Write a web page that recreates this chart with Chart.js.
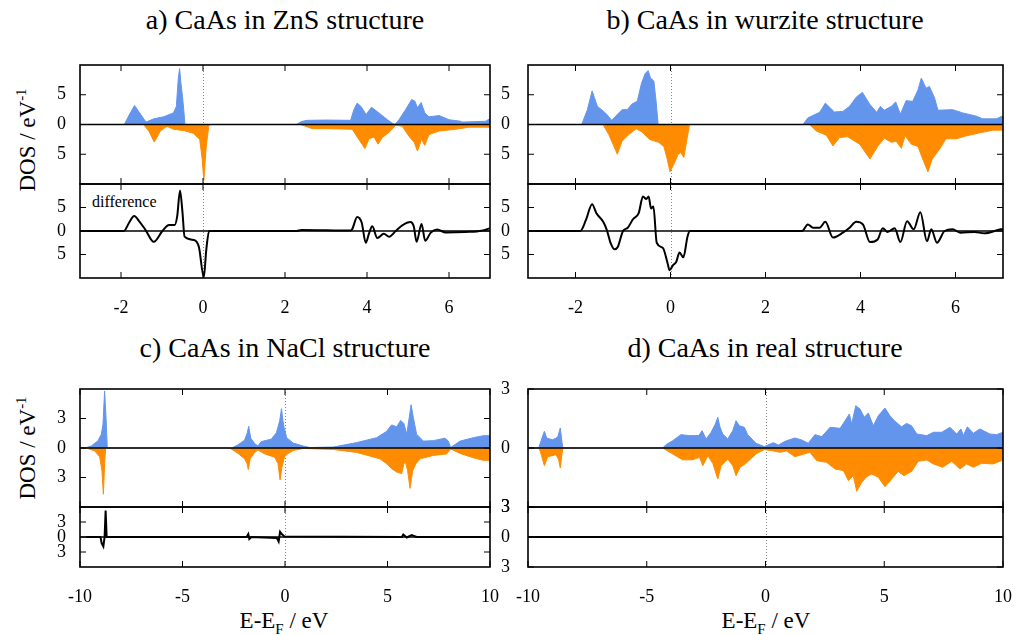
<!DOCTYPE html>
<html>
<head>
<meta charset="utf-8">
<script src="https://cdn.jsdelivr.net/npm/chart.js@4.4.0/dist/chart.umd.min.js"></script>
<style>
    body { margin: 0; width: 1017px; height: 635px; position: relative; overflow: hidden; background: #fff; font-family: "Liberation Serif", serif; color: #000; }
    canvas { position: absolute; }
    .title { position: absolute; font-size: 28px; line-height: 30px; white-space: nowrap; transform: translateX(-50%); }
    .ylab { position: absolute; font-size: 23px; line-height: 24px; white-space: nowrap; transform: translate(-50%, -50%) rotate(-90deg); }
    .xlab { position: absolute; font-size: 23px; line-height: 24px; white-space: nowrap; transform: translate(-50%, -50%); }
    .note { position: absolute; font-size: 16px; line-height: 16px; white-space: nowrap; }
    sup, sub { font-size: 0.65em; line-height: 0; }
</style>
</head>
<body>

<div class="title" style="left:285px; top:5px;">a) CaAs in ZnS structure</div>
<div class="title" style="left:765px; top:5px;">b) CaAs in wurzite structure</div>
<div class="title" style="left:285px; top:333px;">c) CaAs in NaCl structure</div>
<div class="title" style="left:765px; top:333px;">d) CaAs in real structure</div>
<div class="ylab" style="left:28px; top:140px;">DOS / eV<sup>-1</sup></div>
<div class="ylab" style="left:28px; top:448px;">DOS / eV<sup>-1</sup></div>
<div class="xlab" style="left:284px; top:621px;">E-E<sub>F</sub> / eV</div>
<div class="xlab" style="left:766px; top:621px;">E-E<sub>F</sub> / eV</div>
<div class="note" style="left:92px; top:194px;">difference</div>

<script>
// --- Data: a) ZnS structure ---
const aUpE = [-3, -1.92, -1.8, -1.67, -1.55, -1.39, -1.2, -0.96, -0.72, -0.65, -0.6, -0.57, -0.54, -0.5, -0.47, -0.44, 2.28, 2.4, 2.54, 3.0, 3.6, 3.68, 3.76, 3.85, 3.98, 4.11, 4.29, 4.5, 4.62, 4.68, 4.78, 4.94, 5.09, 5.17, 5.23, 5.32, 5.41, 5.51, 5.76, 6.0, 6.28, 6.32, 6.9, 6.95, 7];
const aUp = [0, 0, 1.6, 3.2, 2.0, 0.4, 0.95, 1.3, 1.95, 3.05, 8.0, 9.4, 7.0, 4.7, 2.5, 0, 0, 0.5, 0.7, 0.75, 0.7, 2.5, 3.6, 3.05, 1.7, 2.9, 1.95, 0.8, 0.2, 0, 0.8, 2.5, 4.2, 3.9, 2.8, 3.7, 1.95, 1.3, 1.5, 0.8, 0.55, 0.4, 0.55, 0.8, 0.9];
const aDnE = [-3, -1.45, -1.32, -1.19, -1.04, -0.88, -0.72, -0.45, -0.23, -0.08, -0.02, 0.02, 0.08, 0.14, 0.17, 2.38, 2.67, 3.0, 3.64, 3.8, 3.95, 4.05, 4.17, 4.27, 4.37, 4.54, 4.7, 4.86, 5.02, 5.15, 5.23, 5.33, 5.41, 5.51, 5.76, 6.16, 6.49, 7];
const aDn = [0, 0, -1.1, -2.95, -1.1, -0.3, -0.8, -1.05, -1.5, -2.5, -5.8, -9.4, -3.6, -0.3, 0, 0, -0.7, -0.7, -0.8, -2.5, -4.05, -2.4, -2.1, -3.3, -2.2, -1.3, -0.1, -0.3, -1.95, -3.0, -4.45, -2.5, -3.5, -1.7, -1.1, -0.8, -0.45, -0.45];
const aDiffE = [-3, -1.93, -1.8, -1.68, -1.55, -1.4, -1.2, -0.99, -0.83, -0.69, -0.63, -0.56, -0.5, -0.45, -0.22, -0.1, 0.02, 0.08, 0.15, 2.28, 2.4, 3.0, 3.6, 3.64, 3.76, 3.87, 3.97, 4.05, 4.13, 4.25, 4.41, 4.54, 4.7, 4.86, 5.06, 5.14, 5.21, 5.33, 5.42, 5.55, 5.71, 5.92, 6.4, 6.8, 7];
const aDiff = [0, 0, 1.8, 3.2, 2.0, 0.2, -2.3, 0, 1.3, 1.3, 3.1, 8.6, 3.9, -1.2, -1.9, -3.4, -9.8, -4.0, 0, 0, 0.2, 0.15, 0.1, 0.4, 3.0, 1.8, -2.5, -0.5, 1.0, -1.5, -0.6, -1.2, 0, 1.2, 1.9, 1.0, -2.3, 1.5, -2.1, -0.4, 0.3, -0.3, -0.2, 0.05, 0.6];

// --- Data: b) wurzite structure ---
const bUpE = [-3, -1.87, -1.75, -1.65, -1.54, -1.37, -1.24, -1.02, -0.91, -0.81, -0.7, -0.61, -0.53, -0.47, -0.42, -0.35, -0.3, -0.26, 2.79, 2.89, 3.14, 3.26, 3.45, 3.63, 3.77, 3.91, 4.04, 4.19, 4.34, 4.42, 4.5, 4.65, 4.74, 4.84, 4.96, 5.1, 5.21, 5.28, 5.38, 5.45, 5.56, 5.63, 5.94, 6.15, 6.44, 6.57, 6.86, 6.98, 7];
const bUp = [0, 0, 2.5, 5.65, 3.05, 1.95, 0.7, 2.5, 2.5, 3.45, 3.9, 6.95, 8.6, 9.05, 7.8, 7.3, 3.6, 0, 0, 1.1, 2.05, 3.6, 2.1, 2.2, 3.05, 4.6, 5.4, 3.45, 2.05, 3.05, 2.4, 3.05, 3.8, 1.75, 4.0, 3.9, 5.8, 7.8, 6.1, 6.4, 4.45, 2.4, 2.5, 1.95, 1.4, 0.95, 0.95, 1.4, 1.4];
const bDnE = [-3, -1.42, -1.3, -1.21, -1.12, -1.02, -0.88, -0.72, -0.6, -0.44, -0.25, -0.14, -0.07, -0.01, 0.07, 0.16, 0.22, 0.28, 0.35, 0.4, 2.93, 3.07, 3.28, 3.42, 3.56, 3.73, 3.98, 4.2, 4.36, 4.5, 4.65, 4.75, 4.86, 4.94, 5.07, 5.21, 5.31, 5.42, 5.51, 5.66, 5.8, 6.02, 6.23, 6.51, 6.79, 7];
const bDn = [0, 0, -1.7, -3.3, -5.0, -2.8, -1.7, -0.7, -1.25, -2.5, -3.0, -3.7, -5.8, -7.95, -6.7, -5.0, -4.7, -5.55, -2.3, 0, 0, -1.1, -1.8, -3.6, -2.2, -2.05, -3.3, -5.8, -3.7, -2.3, -3.0, -2.8, -4.0, -1.9, -3.3, -3.7, -5.8, -7.95, -5.8, -4.2, -2.4, -2.4, -1.9, -1.4, -0.95, -0.95];
const bDiffE = [-3, -1.9, -1.78, -1.65, -1.56, -1.42, -1.34, -1.26, -1.18, -1.11, -1.0, -0.9, -0.79, -0.67, -0.58, -0.51, -0.46, -0.41, -0.36, -0.29, -0.16, -0.06, -0.02, 0.05, 0.12, 0.19, 0.27, 0.36, 0.41, 2.77, 2.89, 3.0, 3.14, 3.26, 3.42, 3.63, 3.77, 3.91, 4.05, 4.2, 4.36, 4.47, 4.57, 4.72, 4.84, 4.98, 5.12, 5.26, 5.4, 5.49, 5.61, 5.77, 5.94, 6.1, 6.4, 6.6, 6.95, 7];
const bDiff = [0, 0, 2.35, 5.7, 3.8, 2.0, 0.2, -2.6, -3.9, -3.4, 0, 0.7, 2.5, 3.8, 7.35, 6.8, 7.35, 4.8, 5.2, -2.5, -3.6, -6.9, -8.35, -7.3, -6.6, -4.6, -5.6, -1.1, 0, 0, 1.4, 0.7, 0.7, 1.95, -1.4, -0.35, 0.7, 1.95, 1.4, -2.35, -1.8, 0.6, -0.2, 0.6, -2.35, 2.1, 0.35, 4.0, -2.2, 0.35, -2.5, 0, 0.35, -0.35, -0.2, -0.5, 0.35, 0.4];

// --- Data: c) NaCl structure ---
const cUpE = [-10, -9.77, -9.45, -9.12, -8.96, -8.88, -8.8, -8.73, -8.67, -2.59, -2.29, -1.97, -1.84, -1.77, -1.67, -1.48, -1.32, -1.16, -0.67, -0.42, -0.26, -0.17, -0.1, -0.04, 0.08, 0.4, 0.89, 1.2, 2.36, 3.5, 4.47, 4.96, 5.2, 5.45, 5.64, 5.8, 5.94, 6.06, 6.15, 6.26, 6.42, 6.75, 7.24, 7.8, 7.97, 8.08, 8.54, 9.19, 9.67, 10];
const cUp = [0, 0, 0.2, 0.75, 1.4, 2.4, 5.8, 3.1, 0, 0, 0.33, 0.8, 1.55, 2.2, 1.0, 0.45, 0.2, 0.65, 0.9, 1.55, 2.75, 4.0, 2.75, 2.05, 1.05, 0.5, 0.2, 0.05, 0.1, 0.55, 1.05, 1.7, 2.35, 2.15, 2.8, 2.5, 1.4, 3.1, 4.4, 3.1, 1.4, 0.7, 0.75, 1.0, 0.7, 0.05, 0.7, 1.05, 1.25, 1.25];
const cDnE = [-10, -9.7, -9.28, -9.04, -8.93, -8.86, -8.8, -8.75, -2.7, -2.29, -1.97, -1.85, -1.79, -1.7, -1.48, -1.32, -0.99, -0.5, -0.34, -0.24, -0.15, 0, 0.4, 0.9, 2.36, 3.5, 4.63, 4.96, 5.2, 5.45, 5.69, 5.85, 5.98, 6.1, 6.23, 6.39, 6.59, 7.24, 7.89, 8.08, 8.54, 9.19, 9.67, 10];
const cDn = [0, 0, -0.3, -0.9, -2.3, -4.7, -1.6, 0, 0, -0.55, -1.1, -1.6, -2.2, -1.1, -0.45, -0.2, -0.6, -0.95, -1.6, -3.25, -1.95, -0.75, -0.25, -0.05, -0.15, -0.45, -1.1, -1.6, -2.1, -2.45, -2.6, -1.2, -2.3, -4.1, -2.3, -1.6, -1.1, -0.75, -0.6, -0.1, -0.55, -1.0, -1.25, -1.25];
const cDiffE = [-9.7, -9.0, -8.94, -8.86, -8.8, -8.75, -8.7, -1.87, -1.79, -1.74, -1.64, -0.4, -0.31, -0.24, -0.16, -0.03, 5.7, 5.77, 5.94, 6.18, 6.42, 10];
const cDiff = [0, 0, -1.27, -1.9, 0, 5.3, 0, 0, 0.6, -0.4, 0, -0.2, -0.9, 1.05, 0.6, 0.1, 0, 0.5, -0.1, 0.4, 0, 0];

// --- Data: d) real structure ---
const dUpE = [-10, -9.55, -9.45, -9.31, -9.21, -8.96, -8.75, -8.64, -8.57, -8.53, -4.33, -4.19, -3.91, -3.56, -3.21, -2.81, -2.67, -2.5, -2.29, -2.11, -2.01, -1.92, -1.8, -1.59, -1.38, -1.24, -1.1, -0.89, -0.75, -0.4, -0.05, 0.33, 0.54, 0.82, 1.24, 1.52, 1.8, 2.08, 2.37, 2.72, 3.14, 3.35, 3.53, 3.63, 3.8, 3.98, 4.16, 4.33, 4.54, 4.75, 5.03, 5.24, 5.45, 5.73, 5.94, 6.15, 6.37, 6.79, 7.07, 7.42, 7.77, 8.05, 8.23, 8.33, 8.5, 8.75, 9.03, 9.45, 9.73, 10];
const dUp = [0, 0, 0.37, 0.85, 0.5, 0.42, 0.55, 1.02, 0.3, 0, 0, 0.17, 0.37, 0.68, 0.63, 0.63, 0.88, 0.46, 0.8, 1.22, 1.56, 1.08, 0.71, 0.46, 0.88, 1.39, 1.13, 1.05, 0.68, 0.24, 0.07, 0.27, 0.15, 0.34, 0.51, 0.41, 0.24, 0.68, 0.58, 1.05, 1.0, 1.39, 1.73, 1.22, 2.15, 1.98, 1.56, 1.78, 1.13, 1.64, 2.03, 1.64, 1.36, 1.08, 1.25, 1.13, 0.71, 0.63, 0.8, 0.8, 1.05, 0.71, 0.97, 0.63, 1.08, 0.75, 0.97, 0.71, 0.68, 0.8];
const dDnE = [-10, -9.53, -9.43, -9.31, -9.17, -8.82, -8.71, -8.64, -8.57, -8.53, -4.33, -3.91, -3.49, -3.07, -2.78, -2.64, -2.43, -2.22, -2.01, -1.87, -1.59, -1.38, -1.24, -1.07, -0.82, -0.4, -0.05, 0.33, 0.61, 0.89, 1.24, 1.52, 1.87, 2.15, 2.57, 2.93, 3.28, 3.49, 3.7, 3.84, 4.05, 4.26, 4.47, 4.75, 5.03, 5.31, 5.59, 5.83, 6.15, 6.43, 6.79, 7.07, 7.46, 7.84, 8.19, 8.47, 8.75, 9.1, 9.59, 10];
const dDn = [0, 0, -0.39, -0.9, -0.44, -0.34, -0.6, -1.02, -0.3, 0, 0, -0.3, -0.6, -0.6, -0.47, -0.9, -0.39, -0.78, -1.58, -0.9, -0.56, -0.9, -1.41, -0.98, -0.78, -0.3, -0.08, -0.15, -0.22, -0.15, -0.44, -0.34, -0.22, -0.64, -0.73, -1.07, -1.15, -1.66, -1.41, -2.2, -1.75, -1.46, -1.32, -1.49, -1.97, -1.58, -1.19, -1.41, -1.19, -0.68, -0.61, -0.81, -0.98, -0.68, -1.07, -0.81, -0.98, -0.78, -0.81, -0.61];
const dDiffE = [-10, 10];
const dDiff = [0, 0];

// --- Tick values ---
const ticksNarrowX = [-2, 0, 2, 4, 6];
const ticksWideX = [-10, -5, 0, 5, 10];
const ticksAB = [-5, 0, 5];
const ticksCD = [-3, 0, 3];

const FONT = 'Liberation Serif';
const BLUE = '#6495ed';
const ORANGE = '#ff8c00';

function pts(xs, ys) {
    return xs.map((x, i) => ({ x: x, y: ys[i] }));
}

function filled(xs, ys, color) {
    return { data: pts(xs, ys), fill: 'origin', backgroundColor: color, borderColor: color, borderWidth: 1, pointRadius: 0, tension: 0 };
}

function diffLine(xs, ys, smooth) {
    const ds = { data: pts(xs, ys), fill: false, borderColor: '#000', borderWidth: 2, pointRadius: 0, tension: 0 };
    if (smooth) ds.cubicInterpolationMode = 'monotone';
    return ds;
}

// frame, inward ticks, zero line and the dotted Fermi line, gnuplot style
const framePlugin = {
    id: 'frame',
    beforeDatasetsDraw(chart) {
        const { ctx, chartArea: a, scales: { x } } = chart;
        const px = Math.round(x.getPixelForValue(0)) + 0.5;
        ctx.save();
        ctx.strokeStyle = '#888';
        ctx.lineWidth = 1;
        ctx.setLineDash([1, 2]);
        ctx.beginPath();
        ctx.moveTo(px, a.top);
        ctx.lineTo(px, a.bottom);
        ctx.stroke();
        ctx.restore();
    },
    afterDatasetsDraw(chart) {
        const { ctx, chartArea: a, scales: { x, y } } = chart;
        const tl = 6;
        ctx.save();
        ctx.strokeStyle = '#000';
        ctx.lineWidth = 1.5;
        const y0 = y.getPixelForValue(0);
        ctx.beginPath();
        ctx.moveTo(a.left, y0);
        ctx.lineTo(a.right, y0);
        ctx.stroke();

        ctx.lineWidth = 1;
        ctx.beginPath();
        x.ticks.forEach(t => {
            const p = x.getPixelForValue(t.value);
            ctx.moveTo(p, a.top); ctx.lineTo(p, a.top + tl);
            ctx.moveTo(p, a.bottom); ctx.lineTo(p, a.bottom - tl);
        });
        y.ticks.forEach(t => {
            const p = y.getPixelForValue(t.value);
            ctx.moveTo(a.left, p); ctx.lineTo(a.left + tl, p);
            ctx.moveTo(a.right, p); ctx.lineTo(a.right - tl, p);
        });
        ctx.stroke();

        ctx.lineWidth = 1.6;
        ctx.strokeRect(a.left, a.top, a.right - a.left, a.bottom - a.top);
        ctx.restore();
    }
};

function makePlot(p) {
    const PL = 60, PT = 12, PR = 18, PB = 12, XH = 44;
    const cv = document.createElement('canvas');
    cv.width = PL + p.w + PR;
    cv.height = PT + p.h + (p.showX ? XH : PB);
    cv.style.left = (p.left - PL) + 'px';
    cv.style.top = (p.top - PT) + 'px';
    document.body.appendChild(cv);

    return new Chart(cv, {
        type: 'line',
        data: { datasets: p.datasets },
        options: {
            responsive: false,
            animation: false,
            devicePixelRatio: 1,
            layout: { padding: { left: 0, top: PT, right: PR, bottom: p.showX ? 0 : PB } },
            plugins: { legend: { display: false }, tooltip: { enabled: false } },
            scales: {
                x: {
                    type: 'linear',
                    min: p.xmin,
                    max: p.xmax,
                    afterBuildTicks: s => { s.ticks = p.xticks.map(v => ({ value: v })); },
                    afterFit: s => { s.height = p.showX ? XH : 0; s.paddingLeft = 0; s.paddingRight = 0; },
                    grid: { display: false, drawTicks: false },
                    border: { display: false },
                    ticks: {
                        display: p.showX, padding: 19, color: '#000', maxRotation: 0, autoSkip: false,
                        font: { family: FONT, size: 18 },
                        callback: v => String(v)
                    }
                },
                y: {
                    type: 'linear',
                    min: -p.ymax,
                    max: p.ymax,
                    afterBuildTicks: s => { s.ticks = p.yticks.map(v => ({ value: v })); },
                    afterFit: s => { s.width = PL; s.paddingTop = 0; s.paddingBottom = 0; },
                    grid: { display: false, drawTicks: false },
                    border: { display: false },
                    ticks: {
                        padding: p.tickPad, color: '#000', autoSkip: false,
                        font: { family: FONT, size: 18 },
                        callback: v => String(Math.abs(v))
                    }
                }
            }
        },
        plugins: [framePlugin]
    });
}

// --- a) ---
makePlot({ left: 80, top: 65, w: 410, h: 119, xmin: -3, xmax: 7, xticks: ticksNarrowX, ymax: 10, yticks: ticksAB, tickPad: 14, showX: false,
    datasets: [filled(aUpE, aUp, BLUE), filled(aDnE, aDn, ORANGE)] });
makePlot({ left: 80, top: 184, w: 410, h: 94, xmin: -3, xmax: 7, xticks: ticksNarrowX, ymax: 10, yticks: ticksAB, tickPad: 14, showX: true,
    datasets: [diffLine(aDiffE, aDiff, true)] });

// --- b) ---
makePlot({ left: 528, top: 65, w: 475, h: 119, xmin: -3, xmax: 7, xticks: ticksNarrowX, ymax: 10, yticks: ticksAB, tickPad: 18, showX: false,
    datasets: [filled(bUpE, bUp, BLUE), filled(bDnE, bDn, ORANGE)] });
makePlot({ left: 528, top: 184, w: 475, h: 94, xmin: -3, xmax: 7, xticks: ticksNarrowX, ymax: 10, yticks: ticksAB, tickPad: 18, showX: true,
    datasets: [diffLine(bDiffE, bDiff, true)] });

// --- c) ---
makePlot({ left: 80, top: 389, w: 410, h: 118, xmin: -10, xmax: 10, xticks: ticksWideX, ymax: 6, yticks: ticksCD, tickPad: 14, showX: false,
    datasets: [filled(cUpE, cUp, BLUE), filled(cDnE, cDn, ORANGE)] });
makePlot({ left: 80, top: 507, w: 410, h: 60, xmin: -10, xmax: 10, xticks: ticksWideX, ymax: 6, yticks: ticksCD, tickPad: 14, showX: true,
    datasets: [diffLine(cDiffE, cDiff, false)] });

// --- d) ---
makePlot({ left: 528, top: 389, w: 475, h: 118, xmin: -10, xmax: 10, xticks: ticksWideX, ymax: 3, yticks: ticksCD, tickPad: 18, showX: false,
    datasets: [filled(dUpE, dUp, BLUE), filled(dDnE, dDn, ORANGE)] });
makePlot({ left: 528, top: 507, w: 475, h: 60, xmin: -10, xmax: 10, xticks: ticksWideX, ymax: 3, yticks: ticksCD, tickPad: 18, showX: true,
    datasets: [diffLine(dDiffE, dDiff, false)] });
</script>
</body>
</html>
